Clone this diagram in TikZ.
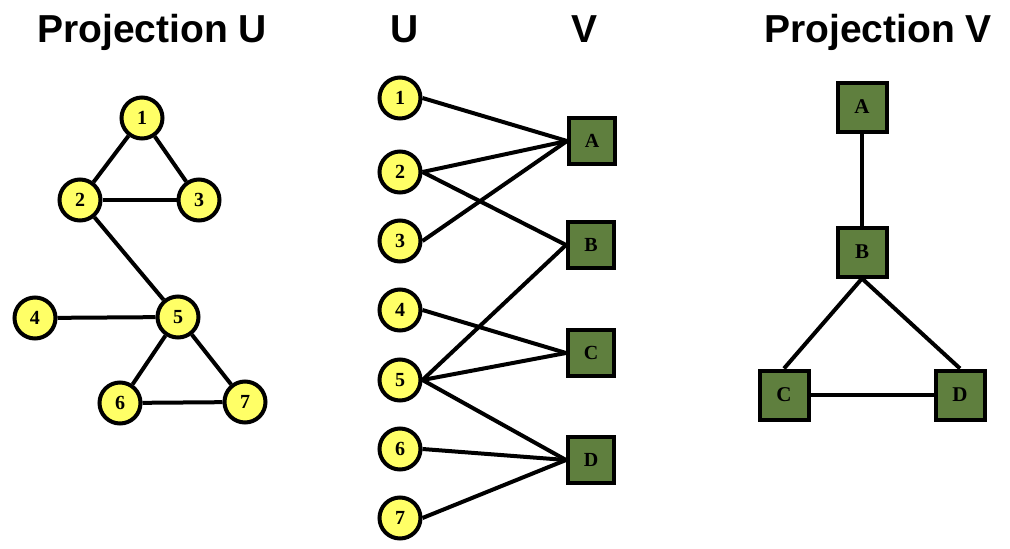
\documentclass[tikz,border=0pt]{standalone}
\usepackage{fontspec}
\setmainfont{Liberation Serif}
\newfontfamily\titlefont{Liberation Sans}
\definecolor{uyellow}{RGB}{255,255,102}
\definecolor{vgreen}{RGB}{95,127,62}

\begin{document}
\begin{tikzpicture}[x=1pt,y=-1pt,
  unode/.style={draw, circle, fill=uyellow, line width=4pt, minimum size=41pt, inner sep=0pt, font=\fontsize{20}{20}\selectfont\bfseries},
  vnode/.style={draw, rectangle, fill=vgreen, line width=4pt, minimum size=46pt, inner sep=0pt, font=\fontsize{20}{20}\selectfont\bfseries},
  bignode/.style={vnode, minimum size=49pt, font=\fontsize{21}{21}\selectfont\bfseries},
  title/.style={anchor=base, font=\titlefont\fontsize{39}{42}\selectfont\bfseries},
  edge/.style={line width=4pt}]
\useasboundingbox (0,0) rectangle (1010,549);

\node[title] (TU) at (152,42) {Projection U};
\node[title] (HU) at (405,42) {U};
\node[title] (HV) at (585,42) {V};
\node[title] (TV) at (878,42) {Projection V};

% projection U
\node[unode] (PU1) at (142,118) {1};
\node[unode] (PU2) at (80,200) {2};
\node[unode] (PU3) at (199,200) {3};
\node[unode] (PU4) at (35,318) {4};
\node[unode] (PU5) at (178,317) {5};
\node[unode] (PU6) at (120,403) {6};
\node[unode] (PU7) at (245,402) {7};
\draw[edge] (PU1) -- (PU2);
\draw[edge] (PU1) -- (PU3);
\draw[edge] (PU2) -- (PU3);
\draw[edge] (PU2) -- (PU5);
\draw[edge] (PU4) -- (PU5);
\draw[edge] (PU5) -- (PU6);
\draw[edge] (PU5) -- (PU7);
\draw[edge] (PU6) -- (PU7);

% bipartite graph
\node[unode] (BU1) at (400,98) {1};
\node[unode] (BU2) at (400,172) {2};
\node[unode] (BU3) at (400,241) {3};
\node[unode] (BU4) at (400,310) {4};
\node[unode] (BU5) at (400,380) {5};
\node[unode] (BU6) at (400,449) {6};
\node[unode] (BU7) at (400,518) {7};
\node[vnode] (BVA) at (592,141) {A};
\node[vnode] (BVB) at (591,245) {B};
\node[vnode] (BVC) at (591,353) {C};
\node[vnode] (BVD) at (591,460) {D};
\draw[edge] (BU1.east) -- (BVA.west);
\draw[edge] (BU2.east) -- (BVA.west);
\draw[edge] (BU3.east) -- (BVA.west);
\draw[edge] (BU2.east) -- (BVB.west);
\draw[edge] (BU5.east) -- (BVB.west);
\draw[edge] (BU4.east) -- (BVC.west);
\draw[edge] (BU5.east) -- (BVC.west);
\draw[edge] (BU5.east) -- (BVD.west);
\draw[edge] (BU6.east) -- (BVD.west);
\draw[edge] (BU7.east) -- (BVD.west);

% projection V
\node[bignode] (PVA) at (862,107) {A};
\node[bignode] (PVB) at (862,252) {B};
\node[bignode] (PVC) at (784,395) {C};
\node[bignode] (PVD) at (960,395) {D};
\draw[edge] (PVA) -- (PVB);
\draw[edge] (PVB.south) -- (PVC.north);
\draw[edge] (PVB.south) -- (PVD.north);
\draw[edge] (PVC) -- (PVD);
\end{tikzpicture}
\end{document}
